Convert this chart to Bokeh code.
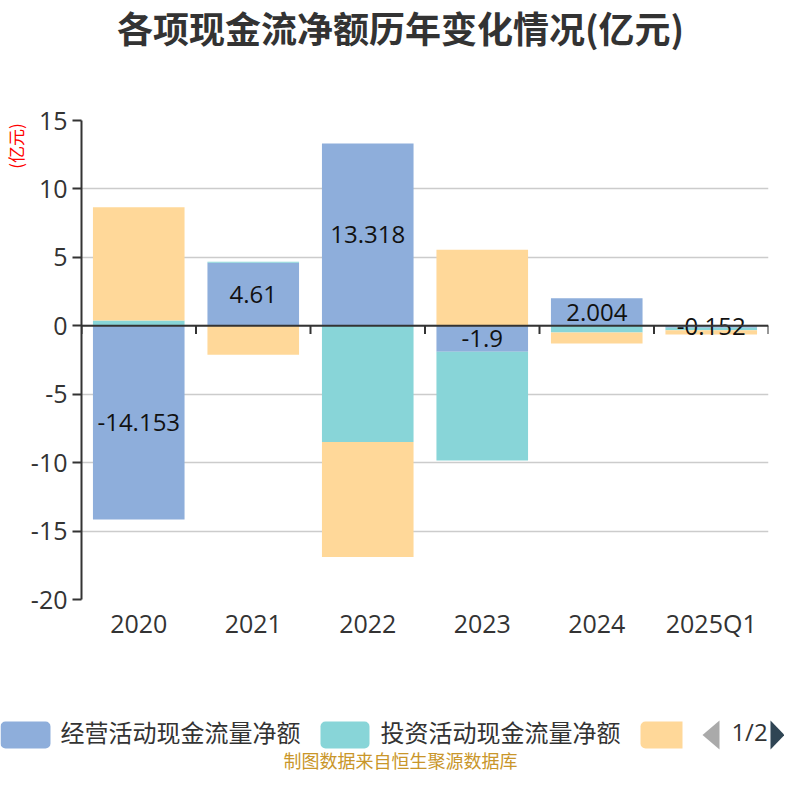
import math
from bokeh.plotting import figure
from bokeh.layouts import column, row
from bokeh.models import (ColumnDataSource, FactorRange, Range1d, FixedTicker, Span,
                          BoxAnnotation)
from bokeh.core.properties import value
from bokeh.embed import file_html
from bokeh.resources import INLINE

# ---------------- data ----------------
categories = ["2020", "2021", "2022", "2023", "2024", "2025Q1"]
operating = [-14.153, 4.61, 13.318, -1.9, 2.004, -0.152]
investing = [0.39, 0.06, -8.50, -7.94, -0.49, -0.17]
financing = [8.27, -2.12, -8.40, 5.55, -0.80, -0.31]
series_names = ["经营活动现金流量净额", "投资活动现金流量净额", "筹资活动现金流量净额"]
y_ticks = [-20, -15, -10, -5, 0, 5, 10, 15]
y_tick_labels = {t: str(t) for t in y_ticks}
title_text = "各项现金流净额历年变化情况(亿元)"
unit_text = "(亿元)"
source_text = "制图数据来自恒生聚源数据库"
pager_text = "1/2"

colors = ["#8eaedb", "#88d5d8", "#ffd899"]
CJK = "Noto Sans CJK SC"
NUM = "Open Sans"
W = 784


def blank(w, h):
    f = figure(width=w, height=h, x_range=Range1d(0, w), y_range=Range1d(0, h),
               output_backend="svg", toolbar_location=None, min_border=0)
    f.min_border_left = f.min_border_right = f.min_border_top = f.min_border_bottom = 0
    f.frame_align = False
    f.axis.visible = False
    f.grid.visible = False
    f.outline_line_color = None
    return f


# ---------------- header ----------------
H1 = 88
head = blank(W, H1)
head.text(x=[400], y=[62], text=[title_text], text_font=value(CJK), text_font_size="36px",
          text_font_style="bold", text_color="#333333", text_align="center",
          text_baseline="middle")

# ---------------- left strip (axis unit) ----------------
H2 = 580
LW = 27
left = blank(LW, H2)
left.text(x=[14.5], y=[522.5], text=[unit_text], angle=math.pi / 2, text_font=value(CJK),
          text_font_size="17px", text_color="#ff0000", text_align="center",
          text_baseline="middle")

# ---------------- main chart ----------------
p = figure(width=W - LW, height=H2, x_range=FactorRange(*categories), y_range=Range1d(-20, 15),
           output_backend="svg", toolbar_location=None)
p.min_border_left = 78 - LW
p.min_border_right = 16
p.min_border_top = 32
p.min_border_bottom = 69
p.outline_line_color = None
p.x_range.range_padding = 0
p.frame_align = False

n = len(categories)
pos = [0.0] * n
neg = [0.0] * n
for vals, col in zip([operating, investing, financing], colors):
    bottoms, tops = [], []
    for i, v in enumerate(vals):
        if v >= 0:
            b, t = pos[i], pos[i] + v
            pos[i] = t
        else:
            t, b = neg[i], neg[i] + v
            neg[i] = b
        bottoms.append(b)
        tops.append(t)
    src = ColumnDataSource(dict(x=categories, bottom=bottoms, top=tops))
    p.vbar(x="x", bottom="bottom", top="top", width=0.8, source=src,
           fill_color=col, line_color=None)

# grid / axes
p.xgrid.visible = False
p.ygrid.ticker = FixedTicker(ticks=y_ticks)
p.ygrid.grid_line_color = "#cccccc"
p.ygrid.grid_line_width = 1.5

p.yaxis.ticker = FixedTicker(ticks=y_ticks)
p.yaxis.major_label_overrides = y_tick_labels
p.yaxis.axis_line_color = "#333333"
p.yaxis.axis_line_width = 2
p.yaxis.major_tick_line_color = "#333333"
p.yaxis.major_tick_line_width = 2
p.yaxis.major_tick_out = 9
p.yaxis.major_tick_in = 0
p.yaxis.minor_tick_line_color = None
p.yaxis.major_label_text_font = NUM
p.yaxis.major_label_text_font_size = "25px"
p.yaxis.major_label_text_color = "#333333"
p.yaxis.major_label_standoff = 5

p.xaxis.axis_line_color = None
p.xaxis.major_tick_line_color = None
p.xaxis.major_tick_out = 0
p.xaxis.major_tick_in = 0
p.xaxis.major_label_text_font = NUM
p.xaxis.major_label_text_font_size = "25px"
p.xaxis.major_label_text_color = "#333333"
p.xaxis.major_label_standoff = 6

# zero line with category boundary ticks
p.add_layout(Span(location=0, dimension="width", line_color="#333333", line_width=2))
bounds = list(range(n + 1))
p.segment(x0=bounds, y0=[0] * (n + 1), x1=bounds, y1=[-0.6] * (n + 1),
          line_color="#333333", line_width=2)

# data labels on operating series
lab_src = ColumnDataSource(dict(x=categories, y=[v / 2 for v in operating],
                                t=[f"{v:g}" for v in operating]))
p.text(x="x", y="y", text="t", source=lab_src, text_font=value(NUM), text_font_size="24px",
       text_color="#111111", text_align="center", text_baseline="middle")

# ---------------- footer (legend + source) ----------------
H3 = 116
foot = blank(W, H3)
foot.add_layout(BoxAnnotation(left=0, right=50, bottom=36, top=63, fill_color=colors[0],
                              fill_alpha=1, line_color=None, border_radius=5))
foot.add_layout(BoxAnnotation(left=320, right=369, bottom=36, top=63, fill_color=colors[1],
                              fill_alpha=1, line_color=None, border_radius=5))
foot.add_layout(BoxAnnotation(left=640, right=682, bottom=36, top=63, fill_color=colors[2],
                              fill_alpha=1, line_color=None, border_radius=(5, 0, 0, 5)))
foot.text(x=[60, 380], y=[53, 53], text=series_names[:2], text_font=value(CJK),
          text_font_size="24px", text_color="#333333", text_align="left",
          text_baseline="middle")
foot.patch(x=[702, 719, 719], y=[49.5, 64, 35], fill_color="#aaaaaa", line_color=None)
foot.patch(x=[770, 784, 770], y=[64, 49.5, 35], fill_color="#2f4554", line_color=None)
foot.text(x=[749], y=[53], text=[pager_text], text_font=value(NUM), text_font_size="24px",
          text_color="#333333", text_align="center", text_baseline="middle")
foot.text(x=[400], y=[25], text=[source_text], text_font=value(CJK), text_font_size="18px",
          text_color="#c9962a", text_align="center", text_baseline="middle")

layout = column(head, row(left, p, spacing=0), foot, spacing=0)
open("out.html", "w").write(file_html(layout, INLINE))
